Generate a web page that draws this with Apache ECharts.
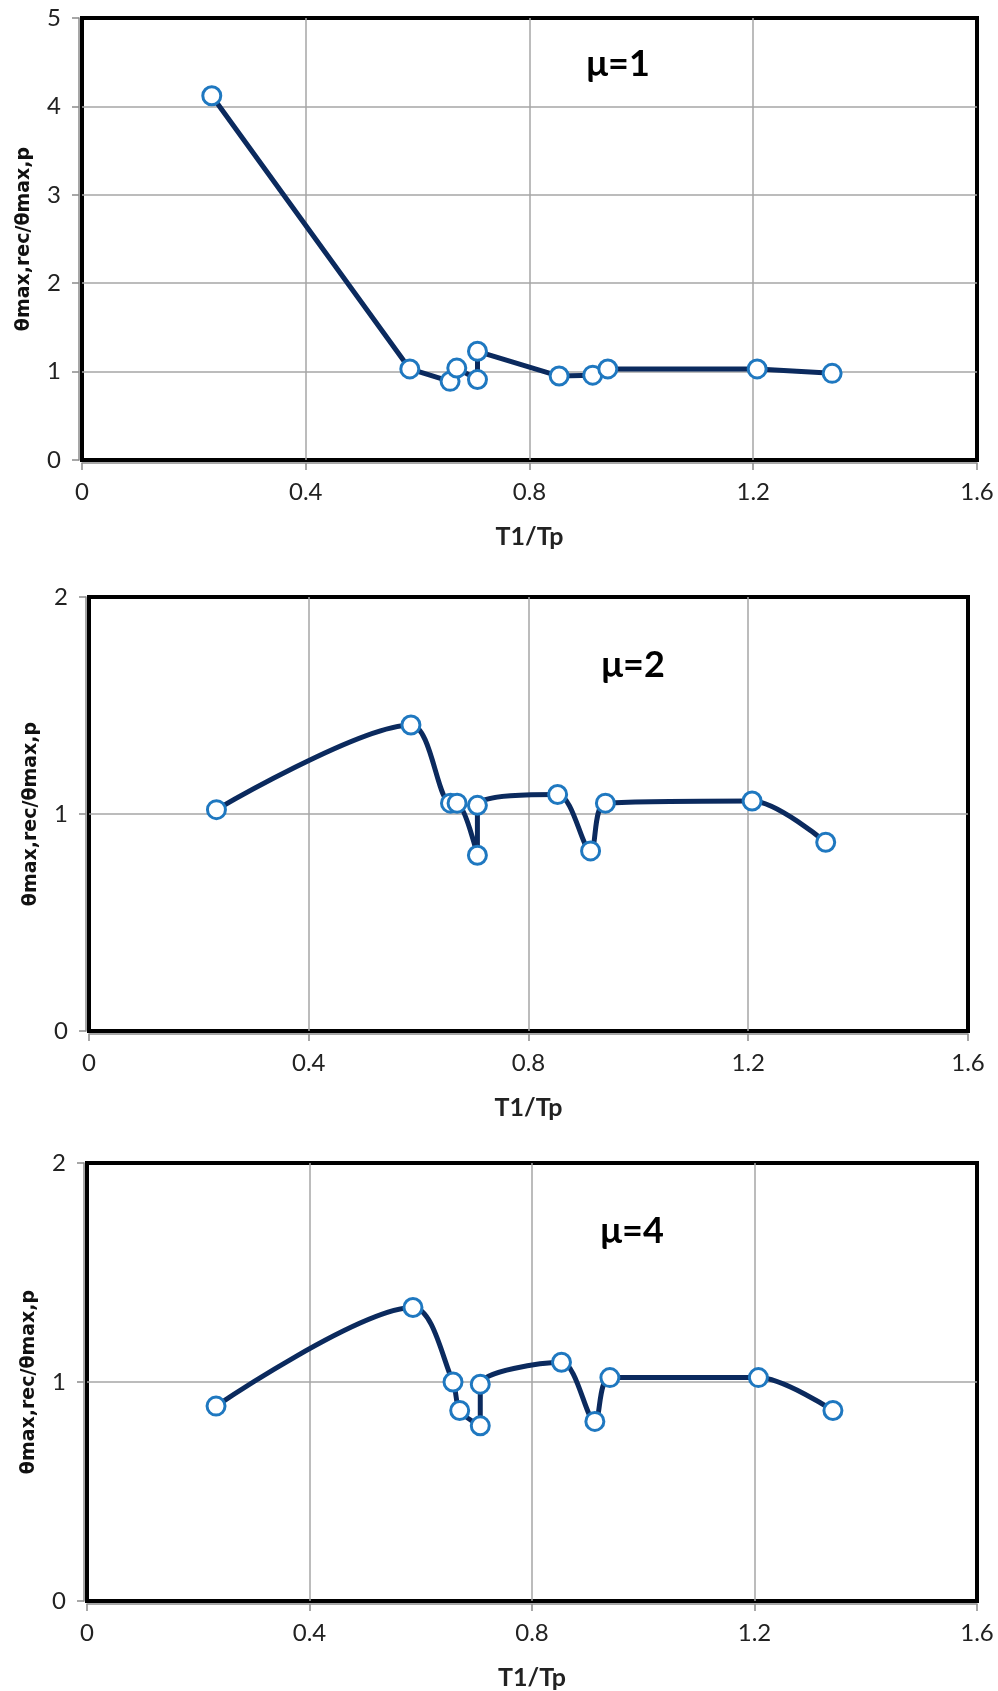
<!DOCTYPE html>
<html><head><meta charset="utf-8">
<script src="https://cdn.jsdelivr.net/npm/echarts@6/dist/echarts.min.js"></script>
<style>html,body{margin:0;padding:0;background:#fff}#c{width:998px;height:1691px}</style>
</head><body><div id="c"></div>
<script>
// ---- data ----
const xValues = [0.232, 0.586, 0.658, 0.670, 0.707, 0.707, 0.853, 0.913, 0.940, 1.207, 1.341];
const yMu1 = [4.12, 1.03, 0.89, 1.04, 0.91, 1.23, 0.95, 0.96, 1.03, 1.03, 0.98];
const yMu2 = [1.02, 1.41, 1.05, 1.05, 0.81, 1.04, 1.09, 0.83, 1.05, 1.06, 0.87];
const yMu4 = [0.89, 1.34, 1.00, 0.87, 0.80, 0.99, 1.09, 0.82, 1.02, 1.02, 0.87];
const panelTitles = ['μ=1', 'μ=2', 'μ=4'];
const yMaxes = [5, 2, 2];
const xMin = 0, xMax = 1.6, xStep = 0.4;
const xAxisTitle = 'T1/Tp';
const yAxisTitle = 'θmax,rec/θmax,p';

// ---- layout ----
const grids = [
  {left: 82, top: 18, width: 895, height: 442},
  {left: 89, top: 597, width: 879, height: 434},
  {left: 87, top: 1163, width: 890, height: 441}
];
const titlePos = [[618, 64], [633, 665], [632, 1231]];
const smoothing = [false, 0.3, 0.3];
const seriesY = [yMu1, yMu2, yMu4];

const tickFont = {fontFamily: 'Lato', fontSize: 24, color: '#222'};
const option = {
  animation: false,
  backgroundColor: '#fff',
  grid: grids.map(g => Object.assign({show: true, borderColor: '#000', borderWidth: 4, backgroundColor: 'transparent', containLabel: false}, g)),
  xAxis: grids.map((g, i) => ({
    gridIndex: i, type: 'value', min: xMin, max: xMax, interval: xStep,
    name: xAxisTitle, nameLocation: 'middle', nameGap: 61,
    nameTextStyle: {fontFamily: 'Lato', fontWeight: 'bold', fontSize: 25, color: '#222'},
    offset: 3,
    axisLine: {show: true, onZero: false, lineStyle: {color: '#8a8a8a', width: 1.5}},
    axisTick: {show: true, length: 7, lineStyle: {color: '#8a8a8a', width: 1.5}},
    axisLabel: Object.assign({margin: 17, formatter: v => String(+v.toFixed(1))}, tickFont),
    splitLine: {show: true, showMinLine: false, showMaxLine: false, lineStyle: {color: '#a6a6a6', width: 1.5}}
  })),
  yAxis: grids.map((g, i) => ({
    gridIndex: i, type: 'value', min: 0, max: yMaxes[i], interval: 1,
    name: yAxisTitle, nameLocation: 'middle', nameGap: 45, nameRotate: 90,
    nameTextStyle: {fontFamily: 'DejaVu Sans', fontWeight: 'bold', fontSize: 19, color: '#111'},
    offset: 3,
    axisLine: {show: true, onZero: false, lineStyle: {color: '#8a8a8a', width: 1.5}},
    axisTick: {show: true, length: 7, lineStyle: {color: '#8a8a8a', width: 1.5}},
    axisLabel: Object.assign({margin: 18}, tickFont),
    splitLine: {show: true, showMinLine: false, showMaxLine: false, lineStyle: {color: '#a6a6a6', width: 1.5}}
  })),
  series: seriesY.map((ys, i) => ({
    type: 'line', xAxisIndex: i, yAxisIndex: i,
    data: xValues.map((x, k) => [x, ys[k]]),
    smooth: smoothing[i],
    lineStyle: {color: '#0b2a5e', width: 5},
    symbol: 'circle', symbolSize: 18,
    itemStyle: {color: '#fff', borderColor: '#1f78c0', borderWidth: 3},
    z: 3
  })),
  graphic: panelTitles.map((t, i) => ({
    type: 'text', x: titlePos[i][0], y: titlePos[i][1], z: 10,
    style: {text: t, font: 'bold 36px Lato', fill: '#000', align: 'center', verticalAlign: 'middle'}
  }))
};
const chart = echarts.init(document.getElementById('c'), null, {renderer: 'canvas'});
chart.setOption(option);
</script>
</body></html>
